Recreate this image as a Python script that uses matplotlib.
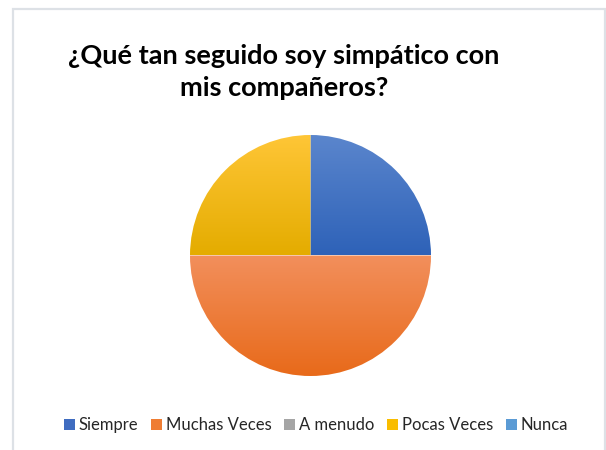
import numpy as np
import matplotlib.pyplot as plt
from matplotlib.colors import LinearSegmentedColormap
from matplotlib.patches import Rectangle

# Survey answers
labels = ["Siempre", "Muchas Veces", "A menudo", "Pocas Veces", "Nunca"]
values = [25, 50, 0, 25, 0]
title = "¿Qué tan seguido soy simpático con\nmis compañeros?"

# (top, bottom) gradient colours for each slice
top_colors = ["#5b86cd", "#f28f5c", "#b2b2b2", "#ffc637", "#6aa6db"]
bottom_colors = ["#2e62b8", "#e86a1a", "#959595", "#e4ac00", "#4a8bc9"]
legend_colors = ["#3f6cc0", "#ef7d33", "#a5a5a5", "#f9bd00", "#5b9bd5"]

plt.rcParams['font.family'] = ['Lato', 'DejaVu Sans']

fig = plt.figure(figsize=(6.06, 4.5), dpi=100)

# light chart-area frame
frame = Rectangle((13 / 606, -0.1), 592 / 606, 1.1 - 9 / 450,
                  transform=fig.transFigure, fill=False,
                  edgecolor="#dde1e6", linewidth=1.6)
fig.add_artist(frame)

ax = fig.add_axes([190 / 606, 1 - 376 / 450, 241 / 606, 241 / 450])
wedges, _ = ax.pie(values, startangle=90, counterclock=False, radius=1.0,
                   wedgeprops=dict(linewidth=0))

# vertical gradient inside each wedge
for w, c0, c1 in zip(wedges, top_colors, bottom_colors):
    w.set_facecolor("none")
    bb = w.get_path().get_extents(w.get_patch_transform())
    if bb.width <= 1e-6:
        continue
    cmap = LinearSegmentedColormap.from_list("g", [c0, c1])
    grad = np.linspace(0, 1, 256).reshape(-1, 1)
    im = ax.imshow(grad, cmap=cmap, aspect='auto', origin='upper',
                   extent=[bb.x0, bb.x1, bb.y0, bb.y1], zorder=1)
    im.set_clip_path(w)
ax.set_xlim(-1, 1)
ax.set_ylim(-1, 1)
ax.axis('off')

fig.text(284 / 606, 1 - 44 / 450, title, ha='center', va='top',
         fontsize=19.5, fontweight='bold', color='#000000', linespacing=1.4)

handles = [Rectangle((0, 0), 1, 1, facecolor=c, edgecolor='none')
           for c in legend_colors]
fig.legend(handles, labels, loc='center', bbox_to_anchor=(316 / 606, 1 - 425 / 450),
           ncol=5, frameon=False, fontsize=12, handlelength=0.65,
           handleheight=0.65, handletextpad=0.25, columnspacing=0.75,
           labelcolor='#262626')

fig.savefig("out.png", dpi=100)
